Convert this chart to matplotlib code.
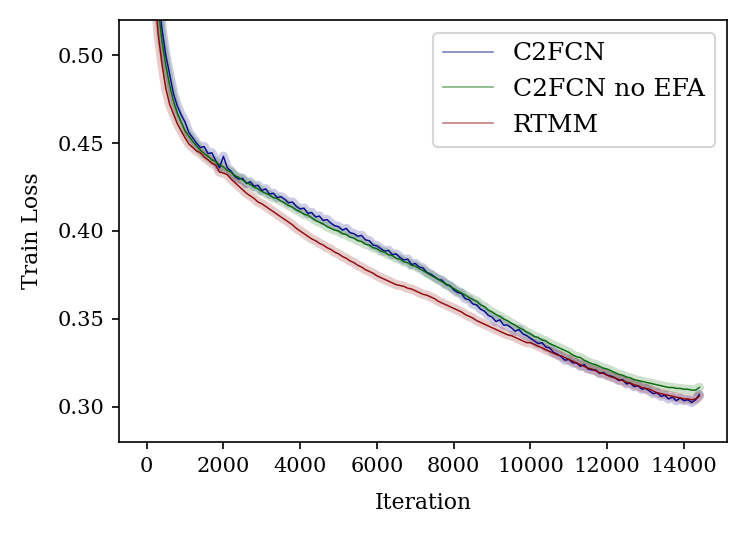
import matplotlib
matplotlib.use("Agg")
import matplotlib.pyplot as plt
from matplotlib.lines import Line2D

plt.rcParams['font.family'] = ['DejaVu Serif']

iterations = list(range(0, 14401, 100))

c2fcn = [
    0.80, 0.64, 0.57, 0.535, 0.515, 0.500, 0.489, 0.478, 0.471, 0.466,
    0.462, 0.456, 0.453, 0.450, 0.4475, 0.448, 0.444, 0.4445, 0.440, 0.436,
    0.4425, 0.436, 0.434, 0.431, 0.4295, 0.430, 0.427, 0.428, 0.4255, 0.426,
    0.423, 0.424, 0.421, 0.4215, 0.419, 0.4195, 0.418, 0.416, 0.4165, 0.414,
    0.4125, 0.413, 0.410, 0.4105, 0.408, 0.4085, 0.406, 0.4065, 0.4045, 0.403,
    0.4025, 0.4005, 0.4015, 0.399, 0.3985, 0.397, 0.3975, 0.395, 0.3945, 0.392,
    0.3915, 0.390, 0.3885, 0.389, 0.3865, 0.387, 0.385, 0.3835, 0.384, 0.381,
    0.3815, 0.3795, 0.379, 0.3765, 0.3755, 0.374, 0.3725, 0.372, 0.3695, 0.369,
    0.3665, 0.365, 0.3645, 0.3615, 0.361, 0.3585, 0.358, 0.3555, 0.3545, 0.352,
    0.351, 0.3485, 0.3495, 0.3465, 0.3465, 0.345, 0.343, 0.344, 0.3415, 0.3405,
    0.339, 0.3375, 0.336, 0.3365, 0.334, 0.3335, 0.331, 0.330, 0.3285, 0.3265,
    0.327, 0.325, 0.325, 0.323, 0.324, 0.3215, 0.321, 0.321, 0.319, 0.3195,
    0.318, 0.3175, 0.3165, 0.315, 0.3155, 0.313, 0.3135, 0.3115, 0.312, 0.310,
    0.3105, 0.309, 0.3075, 0.308, 0.306, 0.3065, 0.3045, 0.3055, 0.3035, 0.305,
    0.3035, 0.304, 0.3025, 0.304, 0.307,
]

c2fcn_no_efa = [
    0.80, 0.63, 0.56, 0.527, 0.508, 0.494, 0.483, 0.474, 0.467, 0.462,
    0.457, 0.454, 0.451, 0.4485, 0.446, 0.444, 0.4425, 0.4405, 0.4395, 0.4375,
    0.4365, 0.4345, 0.4335, 0.4315, 0.4305, 0.429, 0.4275, 0.4265, 0.425, 0.424,
    0.4225, 0.4215, 0.4205, 0.419, 0.4185, 0.417, 0.416, 0.4145, 0.4135, 0.412,
    0.411, 0.4095, 0.409, 0.4075, 0.406, 0.405, 0.404, 0.4025, 0.4015, 0.4005,
    0.400, 0.3985, 0.398, 0.3965, 0.396, 0.3945, 0.394, 0.3925, 0.392, 0.3905,
    0.390, 0.3885, 0.388, 0.3865, 0.386, 0.3845, 0.384, 0.3825, 0.382, 0.3805,
    0.380, 0.3787, 0.3775, 0.3762, 0.3749, 0.3737, 0.3724, 0.3711, 0.3699, 0.3686,
    0.3673, 0.366, 0.3648, 0.3635, 0.3622, 0.361, 0.360, 0.358, 0.357, 0.355,
    0.354, 0.3525, 0.3515, 0.350, 0.349, 0.3475, 0.3465, 0.345, 0.344, 0.3425,
    0.3415, 0.340, 0.3395, 0.338, 0.3375, 0.336, 0.335, 0.334, 0.333, 0.332,
    0.331, 0.3295, 0.3285, 0.328, 0.3265, 0.3255, 0.3245, 0.324, 0.323, 0.322,
    0.3215, 0.3205, 0.3195, 0.3185, 0.318, 0.317, 0.3165, 0.3155, 0.315, 0.3145,
    0.314, 0.3135, 0.313, 0.3125, 0.312, 0.3115, 0.311, 0.311, 0.3105, 0.3105,
    0.310, 0.310, 0.3095, 0.3095, 0.311,
]

rtmm = [
    0.80, 0.60, 0.54, 0.512, 0.495, 0.481, 0.472, 0.4665, 0.461, 0.457,
    0.453, 0.4495, 0.4475, 0.4455, 0.4445, 0.442, 0.4405, 0.4385, 0.4375, 0.4335,
    0.433, 0.432, 0.4295, 0.4275, 0.4255, 0.4235, 0.4215, 0.420, 0.4185, 0.4165,
    0.4155, 0.414, 0.4125, 0.411, 0.4095, 0.408, 0.4065, 0.405, 0.4035, 0.4015,
    0.400, 0.3985, 0.397, 0.3955, 0.3945, 0.393, 0.392, 0.3905, 0.3895, 0.388,
    0.387, 0.3855, 0.3845, 0.383, 0.382, 0.3805, 0.3795, 0.378, 0.377, 0.376,
    0.3745, 0.3735, 0.3725, 0.3715, 0.3705, 0.3695, 0.369, 0.3685, 0.3675, 0.367,
    0.366, 0.365, 0.364, 0.3635, 0.3625, 0.3615, 0.360, 0.359, 0.358, 0.357,
    0.356, 0.355, 0.354, 0.3525, 0.3515, 0.3505, 0.349, 0.348, 0.347, 0.346,
    0.345, 0.344, 0.343, 0.342, 0.341, 0.3405, 0.3395, 0.3385, 0.3375, 0.3365,
    0.3365, 0.3355, 0.3345, 0.3335, 0.3325, 0.3315, 0.3305, 0.3295, 0.329, 0.328,
    0.327, 0.326, 0.325, 0.324, 0.323, 0.322, 0.3215, 0.3205, 0.3195, 0.319,
    0.318, 0.317, 0.3165, 0.3155, 0.315, 0.314, 0.3135, 0.3125, 0.312, 0.311,
    0.3105, 0.310, 0.309, 0.308, 0.3075, 0.307, 0.3065, 0.306, 0.3055, 0.305,
    0.3045, 0.3045, 0.304, 0.3045, 0.306,
]

series_names = ["C2FCN", "C2FCN no EFA", "RTMM"]
series_values = [c2fcn, c2fcn_no_efa, rtmm]
colors = ["darkblue", "darkgreen", "darkred"]

fig = plt.figure(figsize=(748 / 150, 535 / 150), dpi=150)
ax = fig.add_axes([119 / 748, 1 - 442 / 535, (727 - 119) / 748, (442 - 20) / 535])

for vals, col in zip(series_values, colors):
    ax.plot(iterations, vals, color=col, alpha=0.2, lw=4.5, solid_capstyle='round')
for vals, col in zip(series_values, colors):
    ax.plot(iterations, vals, color=col, alpha=0.95, lw=0.7)

ax.set_ylim(0.28, 0.52)
ax.set_yticks([0.30, 0.35, 0.40, 0.45, 0.50])
ax.set_xticks([0, 2000, 4000, 6000, 8000, 10000, 12000, 14000])
ax.tick_params(labelsize=10)
ax.set_xlabel("Iteration", fontsize=10.5, labelpad=8)
ax.set_ylabel("Train Loss", fontsize=10.5, labelpad=7)

handles = [Line2D([0], [0], color=c, alpha=0.5, lw=0.8) for c in colors]
ax.legend(handles, series_names, loc="upper right", fontsize=12)

fig.savefig("out.png", dpi=150)
